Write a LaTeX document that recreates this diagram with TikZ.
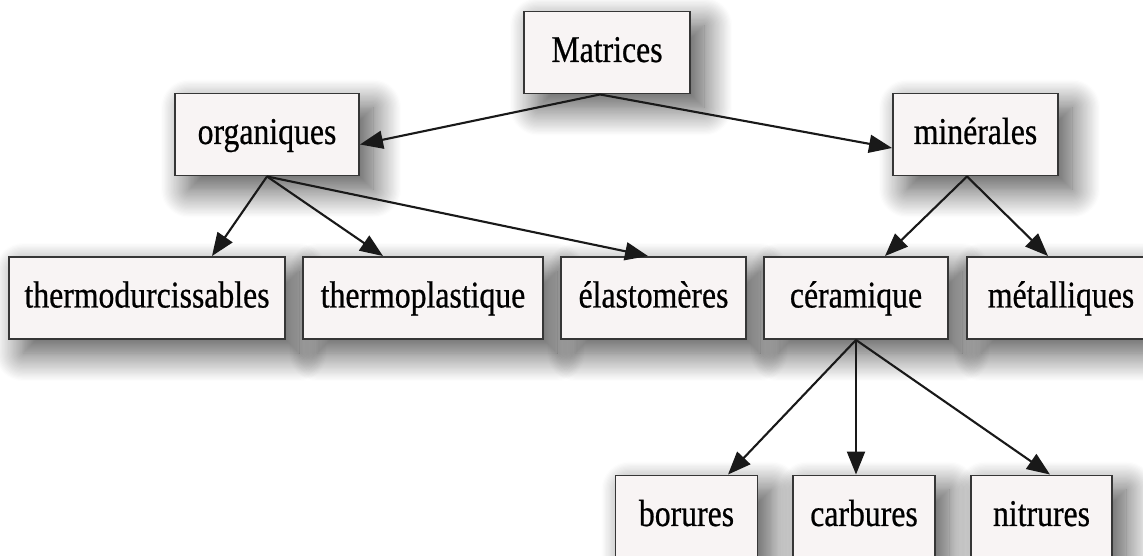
\documentclass[tikz,border=0pt]{standalone}
\usepackage{fontspec}
\newfontfamily\boxfont[FakeStretch=0.84,FakeBold=0.6]{Liberation Serif}
\usepackage{xcolor}
\definecolor{boxfill}{HTML}{F8F4F4}
\definecolor{boxline}{HTML}{363636}
\colorlet{edgecol}{black!90}
\usepackage{tikz}
\usetikzlibrary{arrows.meta}
\usetikzlibrary{shadows.blur}
\tikzset{
  box/.style={draw=boxline,fill=boxfill,line width=1.1pt,minimum height=1.64cm,
    inner sep=0pt,text height=0.52cm,text depth=0.14cm,
    font={\boxfont\fontsize{21.5}{24}\selectfont},
    blur shadow={shadow xshift=8pt,shadow yshift=-8pt,shadow blur radius=16pt,
      shadow blur steps=24,shadow opacity=70}},
  edge/.style={edgecol,line width=1.2pt,-{Triangle[length=4.6mm,width=3.6mm]}}
}

\begin{document}
\begin{tikzpicture}
        \useasboundingbox (0cm,0cm) rectangle (22.86cm,11.12cm);
        \clip (0cm,0cm) rectangle (22.86cm,11.12cm);
        % top
        \node[box,minimum width=3.32cm] (matrices) at (12.14cm,10.07cm) {Matrices};
        \node[box,minimum width=3.68cm] (organiques) at (5.34cm,8.43cm) {organiques};
        \node[box,minimum width=3.30cm] (minerales) at (19.51cm,8.43cm) {minérales};
        % second row
        \node[box,minimum width=5.52cm] (thermodur) at (2.94cm,5.16cm) {thermodurcissables};
        \node[box,minimum width=4.80cm] (thermoplast) at (8.46cm,5.16cm) {thermoplastique};
        \node[box,minimum width=3.70cm] (elastomeres) at (13.07cm,5.16cm) {élastomères};
        \node[box,minimum width=3.68cm] (ceramique) at (17.12cm,5.16cm) {céramique};
        \node[box,minimum width=3.76cm] (metalliques) at (21.22cm,5.16cm) {métalliques};
        % bottom
        \node[box,minimum width=2.84cm] (borures) at (13.73cm,0.79cm) {borures};
        \node[box,minimum width=2.84cm] (carbures) at (17.28cm,0.79cm) {carbures};
        \node[box,minimum width=2.82cm] (nitrures) at (20.83cm,0.79cm) {nitrures};
        % edges
        \draw[edge] ([xshift=-0.14cm]matrices.south) -- ([yshift=-0.2cm]organiques.east);
        \draw[edge] ([xshift=-0.14cm]matrices.south) -- ([yshift=-0.27cm]minerales.west);
        \foreach \child/\dx in {thermodur/1.3cm,thermoplast/-0.8cm,elastomeres/-0.11cm}
          \draw[edge] (organiques.south) -- ([xshift=\dx]\child.north);
        \foreach \child/\dx in {ceramique/0.58cm,metalliques/-0.26cm}
          \draw[edge] ([xshift=-0.17cm]minerales.south) -- ([xshift=\dx]\child.north);
        \foreach \child/\dx in {borures/0.83cm,carbures/-0.16cm,nitrures/0.17cm}
          \draw[edge] (ceramique.south) -- ([xshift=\dx]\child.north);
      \end{tikzpicture}
\end{document}
